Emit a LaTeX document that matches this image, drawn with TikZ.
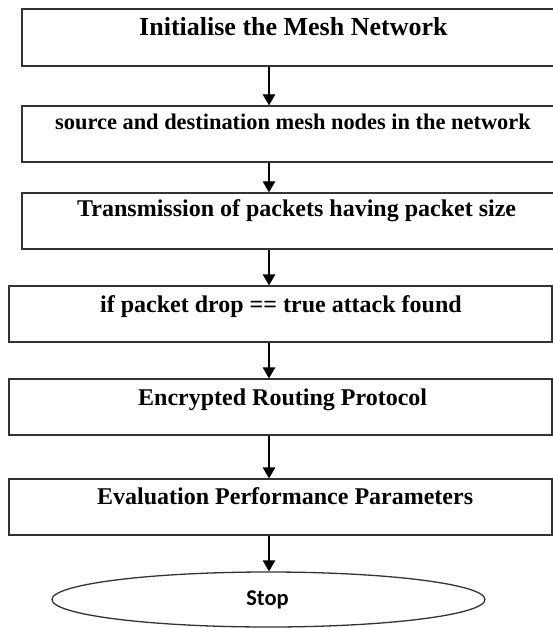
\documentclass[tikz,border=0pt]{standalone}
\usepackage{fontspec}
\setmainfont{Liberation Serif}
\newfontfamily\stopfont{Carlito}
\usetikzlibrary{arrows.meta,shapes.geometric}
\tikzset{
  stepbox/.style={draw=black!80, line width=1.3pt, rectangle, inner sep=0pt},
  lbl/.style={anchor=base west, inner sep=0pt, font=\bfseries\fontsize{24}{28}\selectfont},
  arr/.style={draw=black, line width=1.3pt, -{Triangle[length=11pt,width=12.5pt]}},
  endnode/.style={draw=black!80, line width=1.3pt, ellipse, inner sep=0pt}
}
\begin{document}
\begin{tikzpicture}[x=1pt,y=-1pt]
\clip (0,0) rectangle (553,628);
\fill[white] (0,0) rectangle (553,628);
\coordinate (ax) at (269,0);
\node[stepbox, minimum width=544pt, minimum height=57pt] (b1) at (294,37.5) {};
\node[stepbox, minimum width=544pt, minimum height=56pt] (b2) at (294,134) {};
\node[stepbox, minimum width=544pt, minimum height=56pt] (b3) at (294,221) {};
\node[stepbox, minimum width=543pt, minimum height=56pt] (b4) at (280.5,314) {};
\node[stepbox, minimum width=543pt, minimum height=56pt] (b5) at (280.5,407) {};
\node[stepbox, minimum width=543pt, minimum height=56pt] (b6) at (280.5,507) {};
\node[endnode, minimum width=433pt, minimum height=55pt] (stop) at (268.5,599.5) {};
\node[lbl, font=\bfseries\fontsize{26}{30}\selectfont] (t1) at (139,36) {Initialise the Mesh Network};
\node[lbl, font=\bfseries\fontsize{22.4}{26}\selectfont] (t2) at (55,130) {source and destination mesh nodes in the network};
\node[lbl] (t3) at (77,216) {Transmission of packets having packet size};
\node[lbl] (t4) at (100,312) {if packet drop == true attack found};
\node[lbl] (t5) at (138,405) {Encrypted Routing Protocol};
\node[lbl] (t6) at (97,504) {Evaluation Performance Parameters};
\node[anchor=base, inner sep=0pt, font=\stopfont\bfseries\fontsize{22.5}{26}\selectfont] (ts) at (267.5,605) {Stop};
\draw[arr] (b1.south -| ax) -- (b2.north -| ax);
\draw[arr] (b2.south -| ax) -- (b3.north -| ax);
\draw[arr] (b3.south -| ax) -- (b4.north -| ax);
\draw[arr] (b4.south -| ax) -- (b5.north -| ax);
\draw[arr] (b5.south -| ax) -- (b6.north -| ax);
\draw[arr] (b6.south -| ax) -- (stop.north -| ax);
\end{tikzpicture}
\end{document}
